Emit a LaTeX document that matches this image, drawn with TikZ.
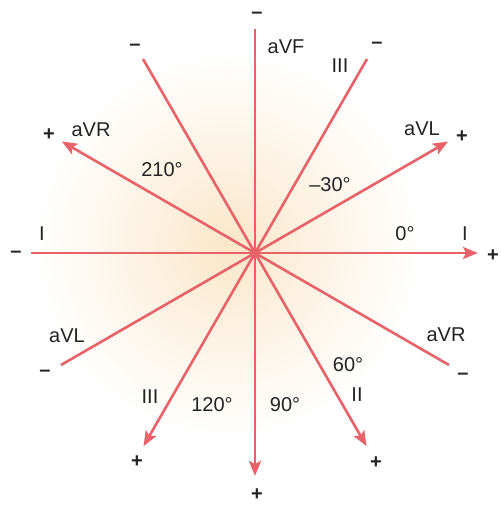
\documentclass[tikz,border=0pt]{standalone}
\usepackage{fontspec}
\setmainfont{Liberation Sans}
\usetikzlibrary{arrows.meta,calc}
\definecolor{leadred}{RGB}{232,98,106}
\definecolor{peach}{RGB}{251,231,201}
\definecolor{ink}{RGB}{35,35,35}
\begin{document}
\begin{tikzpicture}[x=1pt,y=-1pt,
  lead/.style={line width=2.6pt, draw=leadred},
  tipped/.style={-{Stealth[length=15pt,width=12pt,inset=3pt]}},
  lbl/.style={font=\fontsize{20}{22}\selectfont, text=ink, inner sep=0pt},
  sgn/.style={font=\fontsize{20}{22}\selectfont\bfseries, text=ink, inner sep=0pt}]
\useasboundingbox (0,0) rectangle (500,505);
\fill[white] (0,0) rectangle (500,505);
\shade[inner color=peach, outer color=white] (228,245) circle (190);
\coordinate (O) at (255,253);
\foreach \ang/\nm in {0/I,-30/aVL,90/aVF,60/II,120/III,210/aVR}{
  \path (O) ++(\ang:223) coordinate (p\nm);
  \path (O) ++(\ang+180:224) coordinate (n\nm);
  \draw[lead,tipped] (n\nm) -- (p\nm);
}
\node[circle, fill=leadred, minimum size=11pt, inner sep=0pt] (dot) at (O) {};
% labels
\node[sgn] (t1) at (257,15) {–};
\node[lbl] (t2) at (286,47) {aVF};
\node[lbl] (t3) at (340,66) {III};
\node[sgn] (t4) at (377,45) {–};
\node[lbl] (t5) at (422,129) {aVL};
\node[sgn] (t6) at (462,137) {+};
\node[lbl] (t7) at (330,185) {–30°};
\node[lbl] (t8) at (405,234) {0°};
\node[lbl] (t9) at (465,234) {I};
\node[sgn] (t10) at (493,256) {+};
\node[sgn] (t11) at (16,254) {–};
\node[lbl] (t12) at (42,234) {I};
\node[sgn] (t13) at (49,135) {+};
\node[lbl] (t14) at (91,130) {aVR};
\node[lbl] (t15) at (162,170) {210°};
\node[sgn] (t16) at (135,47) {–};
\node[lbl] (t17) at (67,336) {aVL};
\node[sgn] (t18) at (45,373) {–};
\node[lbl] (t19) at (150,397) {III};
\node[lbl] (t20) at (212,405) {120°};
\node[sgn] (t21) at (137,462) {+};
\node[lbl] (t22) at (285,405) {90°};
\node[sgn] (t23) at (257,495) {+};
\node[lbl] (t24) at (348,365) {60°};
\node[lbl] (t25) at (357,395) {II};
\node[sgn] (t26) at (376,463) {+};
\node[lbl] (t27) at (446,335) {aVR};
\node[sgn] (t28) at (463,376) {–};
\end{tikzpicture}
\end{document}
